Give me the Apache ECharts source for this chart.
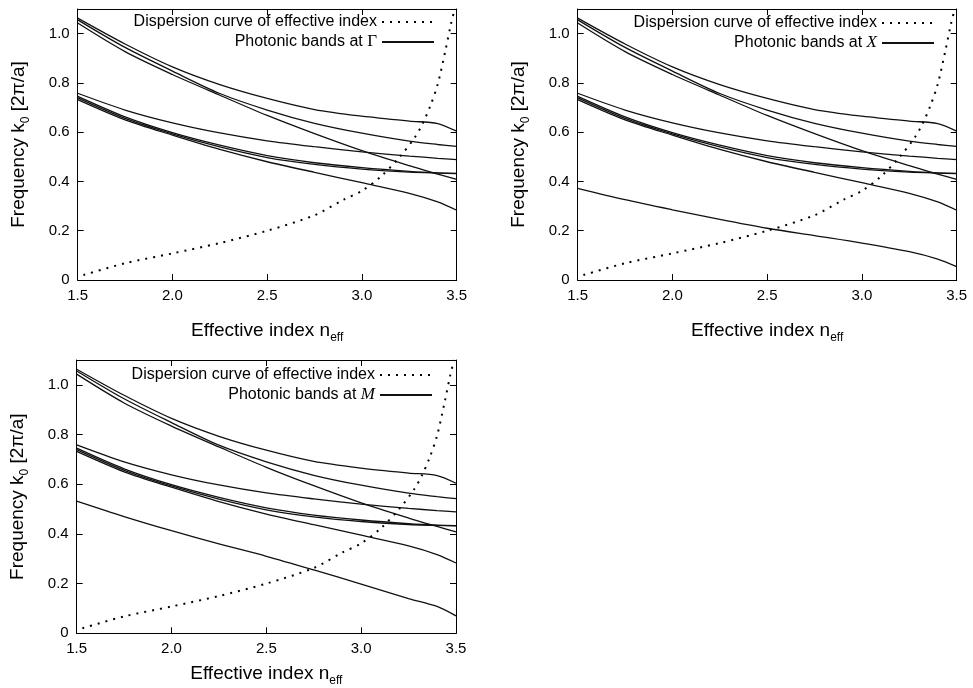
<!DOCTYPE html>
<html>
<head>
<meta charset="utf-8">
<script src="https://cdn.jsdelivr.net/npm/echarts@6/dist/echarts.min.js"></script>
<style>
  html, body { margin: 0; padding: 0; background: #fff; }
  #main { width: 973px; height: 688px; }
</style>
</head>
<body>
<div id="main"></div>
<script>
// effective index samples shared by all band curves
var nEff = [1.5, 1.75, 2.0, 2.25, 2.5, 2.75, 3.0, 3.25, 3.4, 3.5];

// bands common to the three panels
var bandA  = [1.063, 0.958, 0.865, 0.793, 0.737, 0.692, 0.665, 0.645, 0.635, 0.604];
var bandB  = [1.056, 0.944, 0.848, 0.757, 0.690, 0.636, 0.596, 0.564, 0.550, 0.542];
var bandC  = [1.043, 0.927, 0.834, 0.750, 0.668, 0.594, 0.525, 0.464, 0.430, 0.408];
var bandD  = [0.758, 0.690, 0.638, 0.597, 0.565, 0.541, 0.520, 0.503, 0.494, 0.489];
var bandE  = [0.745, 0.662, 0.598, 0.547, 0.505, 0.476, 0.456, 0.441, 0.435, 0.433];
var bandE2 = [0.739, 0.656, 0.593, 0.540, 0.497, 0.469, 0.450, 0.438, 0.434, 0.432];
var bandG  = [0.732, 0.650, 0.588, 0.530, 0.480, 0.437, 0.395, 0.352, 0.317, 0.283];
// extra low band at X and at M
var bandX  = [0.372, 0.326, 0.285, 0.246, 0.210, 0.180, 0.150, 0.115, 0.085, 0.054];
var bandM  = [0.532, 0.470, 0.413, 0.360, 0.310, 0.255, 0.198, 0.140, 0.108, 0.070];

// dispersion curve of the effective index
var dispN = [1.53, 1.75, 2.0, 2.25, 2.5, 2.75, 2.9, 3.0, 3.1, 3.2, 3.28, 3.32, 3.36, 3.4, 3.44, 3.47, 3.49];
var dispK = [0.02, 0.068, 0.108, 0.15, 0.2, 0.263, 0.325, 0.362, 0.42, 0.5, 0.58, 0.635, 0.705, 0.795, 0.93, 1.04, 1.1];

var xTicks = ['1.5', '2.0', '2.5', '3.0', '3.5'];
var yTicks = ['0', '0.2', '0.4', '0.6', '0.8', '1.0'];

var dispName = 'Dispersion curve of effective index';
var panels = [
  { point: 'Γ', italic: false, extra: null,  grid: { left: 77.7, right: 516.3, top: 9, bottom: 408 }, lgRight: 538, lgTop: 13, xGap: 38 },
  { point: 'X', italic: true,  extra: bandX, grid: { left: 577.7, right: 16.3, top: 9, bottom: 408 }, lgRight: 38, lgTop: 14, xGap: 38 },
  { point: 'M', italic: true,  extra: bandM, grid: { left: 76.7, right: 517, top: 360, bottom: 54.7 }, lgRight: 540, lgTop: 366, xGap: 27 }
];

var FONT = '"Liberation Sans", Arial, sans-serif';
var SERIF = '"Liberation Serif", "Times New Roman", serif';

function pairs(xs, ys) {
  return xs.map(function (x, i) { return [x, ys[i]]; });
}

var grids = [], xAxes = [], yAxes = [], series = [], legends = [];

panels.forEach(function (p, k) {
  grids.push(Object.assign({ outerBoundsMode: 'none', containLabel: false }, p.grid));
  var bandName = 'Photonic bands at ' + p.point;

  xAxes.push({
    type: 'value', gridIndex: k, min: 1.5, max: 3.5, interval: 0.5,
    axisLine: { show: true, onZero: false, lineStyle: { color: '#000', width: 1 } },
    axisTick: { inside: true, length: 6, lineStyle: { color: '#000' } },
    axisLabel: { color: '#000', fontSize: 15, fontFamily: FONT, margin: 8,
      formatter: function (v) { return xTicks[Math.round((v - 1.5) / 0.5)] || ''; } },
    splitLine: { show: false },
    name: '{a|Effective index n}{b|eff}', nameLocation: 'middle', nameGap: p.xGap,
    nameTextStyle: { color: '#000', rich: {
      a: { fontSize: 19, fontFamily: FONT, color: '#000', lineHeight: 26 },
      b: { fontSize: 12, fontFamily: FONT, color: '#000', lineHeight: 12, verticalAlign: 'bottom' } } }
  });
  xAxes.push({
    type: 'value', gridIndex: k, position: 'top', min: 1.5, max: 3.5, interval: 0.5,
    axisLine: { show: true, onZero: false, lineStyle: { color: '#000', width: 1 } },
    axisTick: { inside: true, length: 6, lineStyle: { color: '#000' } },
    axisLabel: { show: false }, splitLine: { show: false }
  });
  yAxes.push({
    type: 'value', gridIndex: k, min: 0, max: 1.1, interval: 0.2,
    axisLine: { show: true, onZero: false, lineStyle: { color: '#000', width: 1 } },
    axisTick: { inside: true, length: 6, lineStyle: { color: '#000' } },
    axisLabel: { color: '#000', fontSize: 15, fontFamily: FONT, margin: 8,
      formatter: function (v) { return v > 1.05 ? '' : (yTicks[Math.round(v / 0.2)] || ''); } },
    splitLine: { show: false },
    name: '{a|Frequency k}{b|0}{a| [2π/a]}', nameLocation: 'middle', nameGap: 46,
    nameTextStyle: { color: '#000', rich: {
      a: { fontSize: 19, fontFamily: FONT, color: '#000', lineHeight: 26 },
      b: { fontSize: 12, fontFamily: FONT, color: '#000', lineHeight: 12, verticalAlign: 'bottom' } } }
  });
  yAxes.push({
    type: 'value', gridIndex: k, position: 'right', min: 0, max: 1.1, interval: 0.2,
    axisLine: { show: true, onZero: false, lineStyle: { color: '#000', width: 1 } },
    axisTick: { inside: true, length: 6, lineStyle: { color: '#000' } },
    axisLabel: { show: false }, splitLine: { show: false }
  });

  var bands = [bandA, bandB, bandC, bandD, bandE, bandE2, bandG];
  if (p.extra) bands.push(p.extra);
  bands.forEach(function (b) {
    series.push({
      name: bandName, type: 'line', xAxisIndex: 2 * k, yAxisIndex: 2 * k,
      data: pairs(nEff, b), symbol: 'none', smooth: 0.3, silent: true,
      itemStyle: { color: '#111' },
      lineStyle: { color: '#111', width: 1.3 }
    });
  });
  series.push({
    name: dispName, type: 'line', xAxisIndex: 2 * k, yAxisIndex: 2 * k,
    data: pairs(dispN, dispK), symbol: 'none', smooth: 0.3, silent: true,
    itemStyle: { color: '#000' },
    lineStyle: { color: '#000', width: 2, type: [2, 6], cap: 'butt' }
  });

  var lgBase = {
    orient: 'vertical', align: 'right', right: p.lgRight, padding: 0,
    itemWidth: 52, itemHeight: 14, selectedMode: false,
    itemStyle: { color: 'rgba(0,0,0,0)', borderWidth: 0, opacity: 0 },
    textStyle: { color: '#000', fontSize: 16, fontFamily: FONT, lineHeight: 18 }
  };
  legends.push(Object.assign({}, lgBase, { top: p.lgTop, data: [dispName] }));
  legends.push(Object.assign({}, lgBase, {
    top: p.lgTop + 20, data: [bandName],
    formatter: function () { return '{t|Photonic bands at }{s|' + p.point + '}'; },
    textStyle: { color: '#000', fontSize: 16, fontFamily: FONT, lineHeight: 18, rich: {
      t: { fontSize: 16, fontFamily: FONT, color: '#000', lineHeight: 18 },
      s: { fontSize: 17, fontFamily: SERIF, fontStyle: p.italic ? 'italic' : 'normal', color: '#000', lineHeight: 18 } } }
  }));
});

var chart = echarts.init(document.getElementById('main'));
chart.setOption({
  animation: false,
  backgroundColor: '#fff',
  grid: grids,
  xAxis: xAxes,
  yAxis: yAxes,
  legend: legends,
  series: series
});
</script>
</body>
</html>
